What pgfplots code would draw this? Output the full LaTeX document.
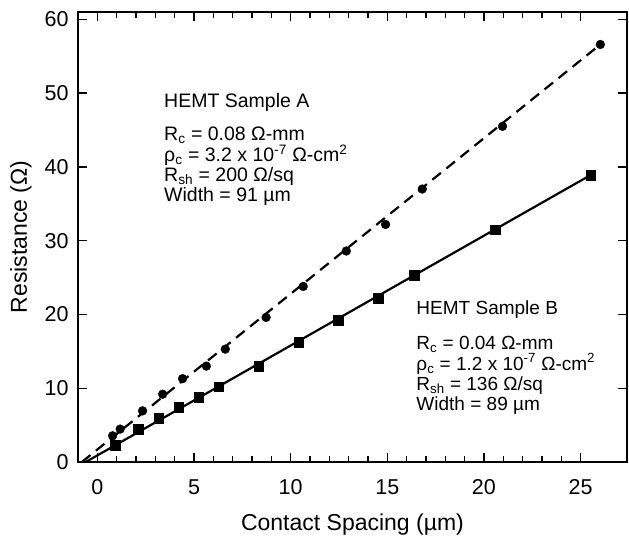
\documentclass[border=0pt]{standalone}
\usepackage{fontspec}
\setmainfont{Liberation Sans}
\usepackage{pgfplots}
\pgfplotsset{compat=1.18}
\usetikzlibrary{calc}

% contact spacing (um) vs resistance (Ohm)
\pgfplotstableread{
x      r
0.79   3.55
1.18   4.46
2.34   6.93
3.38   9.19
4.41   11.3
5.64   13.0
6.62   15.3
8.73   19.6
10.65  23.8
12.88  28.6
14.91  32.2
16.81  37.0
20.96  45.5
26.02  56.6
}\sampleA
\pgfplotstableread{
x      r
0.92   2.3
2.13   4.46
3.17   5.9
4.21   7.39
5.24   8.74
6.28   10.2
8.35   13.0
10.42  16.2
12.46  19.2
14.52  22.2
16.41  25.3
20.57  31.5
25.52  38.9
}\sampleB

\begin{document}
\begin{tikzpicture}
\begin{axis}[
  scale only axis, width=549bp, height=450bp,
  xmin=-1, xmax=27.4, ymin=0, ymax=61,
  xtick={0,5,...,25}, ytick={0,10,...,60},
  minor x tick num=4,
  major tick length=9bp, minor tick length=6bp,
  every tick/.style={line width=1.3bp, black},
  axis line style={line width=1.8bp},
  /pgf/number format/assume math mode=true,
  tick label style={font=\fontsize{21.5bp}{21.5bp}\selectfont},
  xticklabel style={yshift=-14bp},
  yticklabel style={xshift=-6bp},
  label style={font=\fontsize{23bp}{23bp}\selectfont},
  xlabel={Contact Spacing (µm)}, ylabel={Resistance (Ω)},
  xlabel style={yshift=-12bp},
  ylabel style={yshift=6bp},
  clip=false,
]
% fitted lines
\addplot[black, line width=2.2bp, dash pattern=on 11bp off 7bp] coordinates {(-0.8,0) (26.02,56.6)};
\addplot[black, line width=2.2bp] coordinates {(-0.6,0) (25.52,38.9)};
% measured points
\addplot[only marks, mark=*, mark size=4.4bp, black] table[x=x, y=r] {\sampleA};
\addplot[only marks, mark=square*, mark size=4.9bp, black] table[x=x, y=r] {\sampleB};

\node[anchor=north west, align=left, inner sep=0pt,
      font=\fontsize{19.5bp}{20bp}\selectfont] at (axis cs:3.45,50.0)
  {HEMT Sample A\\[13bp]
   R\textsubscript{c} = 0.08 Ω-mm\\
   ρ\textsubscript{c} = 3.2 x 10\textsuperscript{-7} Ω-cm\textsuperscript{2}\\
   R\textsubscript{sh} = 200 Ω/sq\\
   Width = 91 µm};
\node[anchor=north west, align=left, inner sep=0pt,
      font=\fontsize{19bp}{20bp}\selectfont] at (axis cs:16.5,21.9)
  {HEMT Sample B\\[15bp]
   R\textsubscript{c} = 0.04 Ω-mm\\
   ρ\textsubscript{c} = 1.2 x 10\textsuperscript{-7} Ω-cm\textsuperscript{2}\\
   R\textsubscript{sh} = 136 Ω/sq\\
   Width = 89 µm};
\end{axis}
% keep the white margins of the reference
\path ($(current axis.south west)+(-78bp,-79bp)$) rectangle ($(current axis.north east)+(2bp,12bp)$);
\end{tikzpicture}
\end{document}
